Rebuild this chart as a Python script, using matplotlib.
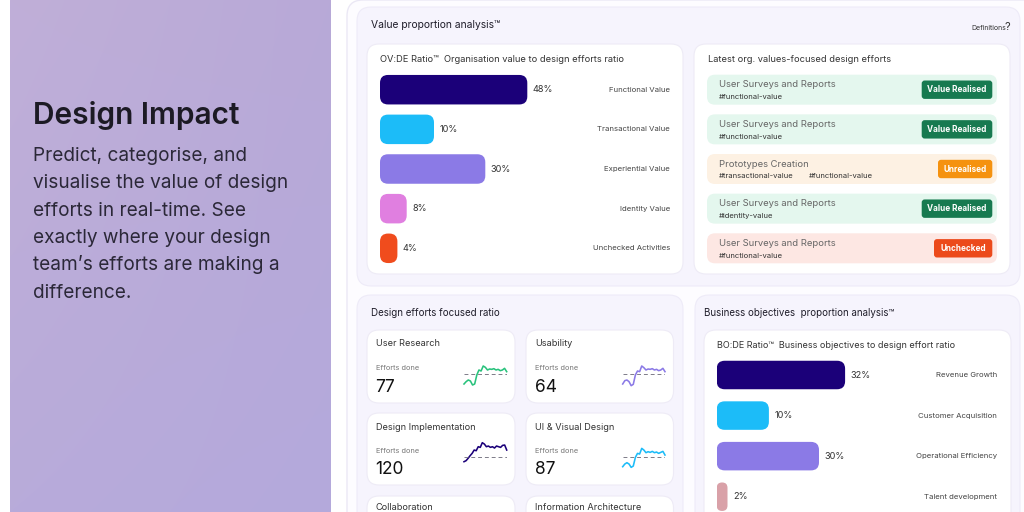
import matplotlib
matplotlib.use("Agg")
import matplotlib.pyplot as plt
import numpy as np
from matplotlib.patches import FancyBboxPatch

plt.rcParams["font.family"] = ["Inter", "DejaVu Sans"]

W, H = 1024, 512

ovde_labels = ["Functional Value", "Transactional Value", "Experiential Value",
               "Identity Value", "Unchecked Activities"]
ovde_pct = [48, 10, 30, 8, 4]
# bar lengths as drawn in the mockup (0-100 axis), they are not to scale with the labels
ovde_bar_len = [49.1, 18.0, 35.1, 8.9, 5.8]
ovde_colors = ["#1b0079", "#1cbcf8", "#8b7ae6", "#e07fe0", "#f04c1d"]

bode_labels = ["Revenue Growth", "Customer Acquisition", "Operational Efficiency",
               "Talent development"]
bode_pct = [32, 10, 30, 2]
bode_bar_len = [42.8, 17.4, 34.1, 3.6]
bode_colors = ["#1b0079", "#1cbcf8", "#8b7ae6", "#d9a1a8"]

effort_titles = ["User Surveys and Reports", "User Surveys and Reports",
                 "Prototypes Creation", "User Surveys and Reports",
                 "User Surveys and Reports"]
effort_tags = [["#functional-value"], ["#functional-value"],
               ["#transactional-value", "#functional-value"],
               ["#identity-value"], ["#functional-value"]]
effort_status = ["Value Realised", "Value Realised", "Unrealised",
                 "Value Realised", "Unchecked"]

focus_names = ["User Research", "Usability", "Design Implementation",
               "UI & Visual Design", "Collaboration", "Information Architecture"]
focus_done = [77, 64, 120, 87, None, None]

spark_user_research = [18, 25, 30, 27, 15, 18, 45, 60, 57, 72, 68, 60, 63, 62, 64, 60, 62, 58, 60, 65, 55]
spark_usability = [18, 28, 30, 25, 13, 17, 45, 57, 55, 72, 67, 60, 63, 62, 64, 60, 62, 58, 60, 65, 55]
spark_design_impl = [30, 33, 40, 48, 55, 65, 63, 75, 73, 87, 83, 75, 77, 73, 75, 71, 77, 75, 73, 79, 80, 65]
spark_ui_visual = [15, 23, 27, 23, 13, 17, 43, 55, 53, 70, 65, 57, 60, 58, 61, 57, 59, 55, 58, 61, 50]
spark_series = [spark_user_research, spark_usability, spark_design_impl, spark_ui_visual]
spark_baseline = [47, 47, 45, 45]
spark_colors = ["#29c27c", "#8b7ae6", "#1b0079", "#1cbcf8"]

intro_title = "Design Impact"
intro_lines = ["Predict, categorise, and", "visualise the value of design",
               "efforts in real-time. See", "exactly where your design",
               "team\u2019s efforts are making a", "difference."]

status_style = {
    "Value Realised": ("#e4f7ee", "#177a50", 70.6),
    "Unrealised": ("#fdf1e3", "#f5920f", 54.3),
    "Unchecked": ("#fde7e3", "#ec4a1b", 58.3),
}

LAV = "#f6f4fd"
LAV_EDGE = "#eeebf8"
WHITE_EDGE = "#eeebf6"

fig = plt.figure(figsize=(W / 100, H / 100), dpi=100)
fig.patch.set_facecolor("white")
ax = fig.add_axes([0, 0, 1, 1])
ax.axis("off")


def card(x0, y0, x1, y1, fc, ec, r=10, lw=0.8, z=1):
    ax.add_patch(FancyBboxPatch((x0, y0), x1 - x0, y1 - y0,
                                boxstyle=f"round,pad=0,rounding_size={r}",
                                fc=fc, ec=ec, lw=lw, zorder=z))


def px_axes(x0, y0, x1, y1):
    a = fig.add_axes([x0 / W, 1 - y1 / H, (x1 - x0) / W, (y1 - y0) / H])
    a.axis("off")
    a.patch.set_alpha(0)
    return a


# left purple panel, soft corner-to-corner tint
tl, tr = np.array([192, 175, 216]), np.array([184, 169, 215])
bl, br = np.array([184, 171, 218]), np.array([180, 169, 220])
u = np.linspace(0, 1, 160)[None, :, None]
v = np.linspace(0, 1, 256)[:, None, None]
panel = ((1 - v) * ((1 - u) * tl + u * tr) + v * ((1 - u) * bl + u * br)) / 255.0
ax.imshow(panel, extent=(10, 331, 512, 0), interpolation="bilinear", aspect="auto", zorder=0)
ax.set_xlim(0, W)
ax.set_ylim(H, 0)

ax.text(33, 124, intro_title, fontsize=21.5, fontweight="semibold", color="#1c1a24",
        va="baseline", ha="left")
for i, line in enumerate(intro_lines):
    ax.text(33, 161 + 27.3 * i, line, fontsize=13.7, color="#2b2838", va="baseline", ha="left")

# right side frame and cards
card(347, 0, 1060, 540, "#fdfcff", "#ebe8f5", r=16, lw=1.0, z=0.5)
card(357, 7, 1020, 286, LAV, LAV_EDGE, r=14)
card(367, 44, 683, 274, "white", WHITE_EDGE, r=12, z=2)
card(694, 44, 1010, 274, "white", WHITE_EDGE, r=12, z=2)
card(357, 295, 683, 540, LAV, LAV_EDGE, r=14)
card(695, 295, 1020, 540, LAV, LAV_EDGE, r=14)
card(704, 330, 1011, 540, "white", WHITE_EDGE, r=12, z=2)

ax.text(371, 25, "Value proportion analysis\u2122", fontsize=7.4, color="#1f1d2a", va="center")
ax.text(971.5, 29.5, "Definitions", fontsize=5.0, color="#333", va="baseline")
ax.text(1004.5, 29.5, "?", fontsize=8, color="#333", va="baseline")
ax.text(380, 59, "OV:DE Ratio\u2122  Organisation value to design efforts ratio",
        fontsize=6.7, color="#333", va="center")
ax.text(707.5, 59, "Latest org. values-focused design efforts", fontsize=6.7,
        color="#333", va="center")
ax.text(371, 312.5, "Design efforts focused ratio", fontsize=7.0, color="#1f1d2a", va="center")
ax.text(704, 313, "Business objectives  proportion analysis\u2122", fontsize=7.0,
        color="#1f1d2a", va="center")
ax.text(717, 345, "BO:DE Ratio\u2122  Business objectives to design effort ratio",
        fontsize=6.5, color="#333", va="center")


def ratio_bars(x0, y_first, step, labels, pct, lengths, colors, label_right, bar_px):
    n = len(labels)
    a = px_axes(x0, y_first - step / 2, x0 + 300, y_first + step * (n - 0.5))
    a.set_xlim(0, 100)
    a.set_ylim(n - 0.5, -0.5)
    xupp = 100 / 300
    yupp = 1 / step
    bh = bar_px / step
    for i, (lab, p, L, c) in enumerate(zip(labels, pct, lengths, colors)):
        r = min(8 * xupp, L / 2)
        a.add_patch(FancyBboxPatch((0, i - bh / 2), L, bh,
                                   boxstyle=f"round,pad=0,rounding_size={r}",
                                   mutation_aspect=yupp / xupp, fc=c, ec="none"))
        a.text(L + 5.5 * xupp, i, f"{p}%", fontsize=6.6, color="#333",
               va="center", ha="left")
        a.text((label_right - x0) * xupp, i, lab, fontsize=5.6, color="#444",
               va="center", ha="right")


ratio_bars(380, 89.7, 39.65, ovde_labels, ovde_pct, ovde_bar_len, ovde_colors, 670, 29.5)
ratio_bars(716.7, 375, 40.57, bode_labels, bode_pct, bode_bar_len, bode_colors, 997.3, 28.5)

# latest efforts list
for i, (title, tags, status) in enumerate(zip(effort_titles, effort_tags, effort_status)):
    c = 89.7 + 39.65 * i
    fill, badge, bw = status_style[status]
    card(707, c - 15, 997, c + 15, fill, "none", r=8, lw=0, z=3)
    ax.text(719, c - 2.3, title, fontsize=6.8, color="#666", va="baseline", zorder=4)
    for j, tag in enumerate(tags):
        ax.text(719 + 90 * j, c + 9.2, tag, fontsize=5.5, color="#333",
                va="baseline", zorder=4)
    card(992.3 - bw, c - 9.2, 992.3, c + 9.2, badge, "none", r=3, lw=0, z=4)
    ax.text(992.3 - bw / 2, c + 0.3, status, fontsize=5.9, fontweight="bold",
            color="white", ha="center", va="center", zorder=5)

# design efforts tiles
col_x = [367, 526]
col_w = [148, 147.5]
row_y = [330, 413, 496]
row_h = [73, 72, 60]
for k, name in enumerate(focus_names):
    r, cidx = divmod(k, 2)
    x0, y0 = col_x[cidx], row_y[r]
    card(x0, y0, x0 + col_w[cidx], y0 + row_h[r], "white", WHITE_EDGE, r=12, z=2)
    # last row is clipped by the picture edge, keep its titles just inside
    ax.text(x0 + 9, min(y0 + 16.5, 510.5), name, fontsize=6.6, color="#333",
            va="baseline", zorder=3)
    if focus_done[k] is not None:
        ax.text(x0 + 9, y0 + 40, "Efforts done", fontsize=5.3, color="#777",
                va="baseline", zorder=3)
        ax.text(x0 + 8.5, y0 + 61.5, str(focus_done[k]), fontsize=12.5, color="#111",
                va="baseline", zorder=3)

spark_x = [(464, 506.7), (622.7, 665)]
spark_y = [(360, 390), (441.7, 471.7)]
for k, vals in enumerate(spark_series):
    r, cidx = divmod(k, 2)
    a = px_axes(spark_x[cidx][0], spark_y[r][0], spark_x[cidx][1], spark_y[r][1])
    a.set_xlim(0, len(vals) - 1)
    a.set_ylim(0, 90)
    a.plot(range(len(vals)), vals, color=spark_colors[k], lw=1.15,
           solid_joinstyle="round", clip_on=False)
    a.axhline(spark_baseline[k], color="#7d7b88", lw=0.7, dashes=(4, 3))

fig.savefig("out.png", dpi=100, facecolor="white")
